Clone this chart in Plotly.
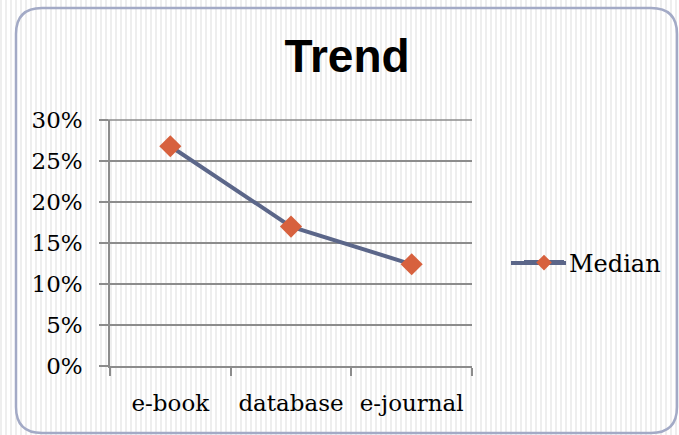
import plotly.graph_objects as go

categories = ["e-book", "database", "e-journal"]
median_values = [0.268, 0.170, 0.124]
y_tick_values = [0, 0.05, 0.10, 0.15, 0.20, 0.25, 0.30]
y_tick_labels = ["0%", "5%", "10%", "15%", "20%", "25%", "30%"]

W, H = 679, 435
L, R, T, B = 110, 472, 120, 366

def px(x):
    return (x - L) / (R - L)

def py(y):
    return (B - y) / (B - T)

fig = go.Figure()
fig.add_trace(go.Scatter(
    x=categories, y=median_values, mode="lines+markers", name="Median",
    line=dict(color="#5b6689", width=4),
    marker=dict(symbol="diamond", size=17, color="#d7613e",
                line=dict(width=0)),
))

shapes = []
# striped background
x = 0
while x < W:
    shapes.append(dict(type="rect", xref="paper", yref="paper",
                       x0=px(x), x1=px(x + 2), y0=py(H), y1=py(0),
                       fillcolor="#eeeeee", line=dict(width=0), layer="below"))
    x += 5
# rounded border
x0, y0, x1, y1, r = 16, 8, 677, 433, 26
path = (f"M {px(x0+r)} {py(y0)} L {px(x1-r)} {py(y0)} "
        f"Q {px(x1)} {py(y0)} {px(x1)} {py(y0+r)} "
        f"L {px(x1)} {py(y1-r)} Q {px(x1)} {py(y1)} {px(x1-r)} {py(y1)} "
        f"L {px(x0+r)} {py(y1)} Q {px(x0)} {py(y1)} {px(x0)} {py(y1-r)} "
        f"L {px(x0)} {py(y0+r)} Q {px(x0)} {py(y0)} {px(x0+r)} {py(y0)} Z")
shapes.append(dict(type="path", xref="paper", yref="paper", path=path,
                   line=dict(color="#a3aac6", width=2.5), layer="below"))
# top (30%) gridline
shapes.append(dict(type="line", xref="paper", yref="paper",
                   x0=px(L - 9), x1=1, y0=1, y1=1,
                   line=dict(color="#8c8c8c", width=1.5), layer="below"))
# legend line extension (legend key is wider in reference)
shapes.append(dict(type="line", xref="paper", yref="paper",
                   x0=px(511), x1=px(566), y0=py(263), y1=py(263),
                   line=dict(color="#5b6689", width=4), layer="above"))

fig.update_layout(
    width=W, height=H,
    margin=dict(l=L, r=W - R, t=T, b=H - B),
    paper_bgcolor="#ffffff",
    plot_bgcolor="rgba(0,0,0,0)",
    shapes=shapes,
    title=dict(text="<b>Trend</b>", x=347 / W, xanchor="center",
               y=1 - 56 / H, yanchor="middle",
               font=dict(family="Liberation Sans, Arial, sans-serif", size=46, color="#000000")),
    showlegend=True,
    legend=dict(x=px(519), y=py(263), xanchor="left", yanchor="middle",
                bgcolor="rgba(0,0,0,0)", itemsizing="constant",
                font=dict(family="DejaVu Serif, serif", size=24, color="#000000"),
                itemwidth=40),
    font=dict(family="DejaVu Serif, serif", size=23, color="#000000"),
)
fig.update_xaxes(
    type="category", range=[-0.5, 2.5],
    showline=True, linecolor="#8c8c8c", linewidth=1.5,
    ticks="outside", tickson="boundaries", ticklen=8, tickcolor="#8c8c8c",
    tickwidth=1.5, showgrid=False, ticklabelstandoff=16,
    tickfont=dict(family="DejaVu Serif, serif", size=23, color="#000000"),
)
fig.update_yaxes(
    range=[0, 0.30], tickvals=y_tick_values, ticktext=y_tick_labels,
    showline=True, linecolor="#8c8c8c", linewidth=1.5,
    ticks="outside", ticklen=9, tickcolor="#8c8c8c", tickwidth=1.5,
    showgrid=True, gridcolor="#8c8c8c", gridwidth=1.5, zeroline=False,
    ticklabelstandoff=12,
    tickfont=dict(family="DejaVu Serif, serif", size=23, color="#000000"),
)
fig.write_html("out.html", config={"displayModeBar": False},
               post_script="document.body.style.margin='0px';")
